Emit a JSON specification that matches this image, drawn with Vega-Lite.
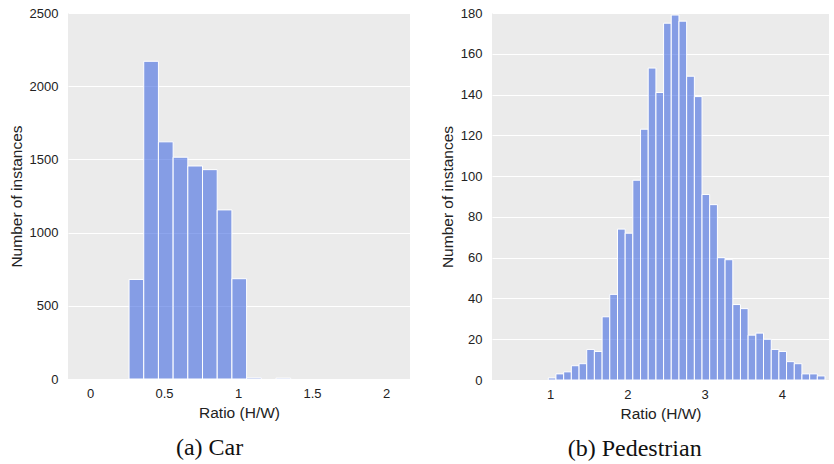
{
  "$schema": "https://vega.github.io/schema/vega-lite/v6.json",
  "background": "white",
  "padding": {"left": 9, "top": 7, "right": 5, "bottom": 5},
  "spacing": 30,
  "config": {
    "view": {"fill": "#EBEBEB", "stroke": null},
    "font": "Liberation Sans",
    "axis": {
      "grid": true, "gridColor": "white", "gridWidth": 1.2,
      "domain": false, "ticks": false,
      "labelFont": "Liberation Sans", "labelFontSize": 13, "labelColor": "#222",
      "titleFont": "Liberation Sans", "titleFontSize": 15.5, "titleFontWeight": "normal", "titleColor": "#222"
    },
    "axisX": {"grid": false, "labelPadding": 8, "titlePadding": 5},
    "axisY": {"labelPadding": 10, "titlePadding": 5},
    "title": {"font": "Liberation Serif", "fontSize": 24, "fontWeight": "normal", "color": "#111", "orient": "bottom", "anchor": "middle", "frame": "bounds", "offset": 15}
  },
  "datasets": {
    "car": [
      {"x0": 0.2635, "x1": 0.3628, "count": 680},
      {"x0": 0.3628, "x1": 0.4621, "count": 2170},
      {"x0": 0.4621, "x1": 0.5614, "count": 1620},
      {"x0": 0.5614, "x1": 0.6607, "count": 1515},
      {"x0": 0.6607, "x1": 0.7600, "count": 1455},
      {"x0": 0.7600, "x1": 0.8593, "count": 1430},
      {"x0": 0.8593, "x1": 0.9586, "count": 1155},
      {"x0": 0.9586, "x1": 1.0579, "count": 685},
      {"x0": 1.0579, "x1": 1.1572, "count": 8},
      {"x0": 1.2565, "x1": 1.3558, "count": 6}
    ],
    "ped": [
      {"x0": 0.978, "x1": 1.077, "count": 1},
      {"x0": 1.077, "x1": 1.177, "count": 3},
      {"x0": 1.177, "x1": 1.276, "count": 4},
      {"x0": 1.276, "x1": 1.376, "count": 7},
      {"x0": 1.376, "x1": 1.475, "count": 8},
      {"x0": 1.475, "x1": 1.574, "count": 15},
      {"x0": 1.574, "x1": 1.674, "count": 14},
      {"x0": 1.674, "x1": 1.773, "count": 31},
      {"x0": 1.773, "x1": 1.873, "count": 42},
      {"x0": 1.873, "x1": 1.972, "count": 74},
      {"x0": 1.972, "x1": 2.071, "count": 72},
      {"x0": 2.071, "x1": 2.171, "count": 98},
      {"x0": 2.171, "x1": 2.270, "count": 123},
      {"x0": 2.270, "x1": 2.370, "count": 153},
      {"x0": 2.370, "x1": 2.469, "count": 141},
      {"x0": 2.469, "x1": 2.568, "count": 175},
      {"x0": 2.568, "x1": 2.668, "count": 179},
      {"x0": 2.668, "x1": 2.767, "count": 176},
      {"x0": 2.767, "x1": 2.867, "count": 149},
      {"x0": 2.867, "x1": 2.966, "count": 139},
      {"x0": 2.966, "x1": 3.065, "count": 91},
      {"x0": 3.065, "x1": 3.165, "count": 86},
      {"x0": 3.165, "x1": 3.264, "count": 60},
      {"x0": 3.264, "x1": 3.364, "count": 59},
      {"x0": 3.364, "x1": 3.463, "count": 37},
      {"x0": 3.463, "x1": 3.562, "count": 35},
      {"x0": 3.562, "x1": 3.662, "count": 22},
      {"x0": 3.662, "x1": 3.761, "count": 23},
      {"x0": 3.761, "x1": 3.861, "count": 20},
      {"x0": 3.861, "x1": 3.960, "count": 15},
      {"x0": 3.960, "x1": 4.059, "count": 14},
      {"x0": 4.059, "x1": 4.159, "count": 9},
      {"x0": 4.159, "x1": 4.258, "count": 8},
      {"x0": 4.258, "x1": 4.358, "count": 3},
      {"x0": 4.358, "x1": 4.457, "count": 3},
      {"x0": 4.457, "x1": 4.556, "count": 2}
    ]
  },
  "hconcat": [
    {
      "width": 342, "height": 366,
      "title": "(a) Car",
      "data": {"name": "car"},
      "mark": {"type": "rect", "fill": "royalblue", "fillOpacity": 0.6, "stroke": "white", "strokeWidth": 1},
      "encoding": {
        "x": {"field": "x0", "type": "quantitative", "scale": {"domain": [-0.149, 2.162], "nice": false, "zero": false},
              "axis": {"values": [0, 0.5, 1, 1.5, 2], "format": "~g", "title": "Ratio (H/W)"}},
        "x2": {"field": "x1"},
        "y": {"field": "count", "type": "quantitative", "scale": {"domain": [0, 2500], "nice": false},
              "axis": {"values": [0, 500, 1000, 1500, 2000, 2500], "format": "d", "title": "Number of instances"}}
      }
    },
    {
      "width": 337, "height": 367,
      "title": "(b) Pedestrian",
      "data": {"name": "ped"},
      "mark": {"type": "rect", "fill": "royalblue", "fillOpacity": 0.6, "stroke": "white", "strokeWidth": 1},
      "encoding": {
        "x": {"field": "x0", "type": "quantitative", "scale": {"domain": [0.25, 4.608], "nice": false, "zero": false},
              "axis": {"values": [1, 2, 3, 4], "format": "~g", "title": "Ratio (H/W)"}},
        "x2": {"field": "x1"},
        "y": {"field": "count", "type": "quantitative", "scale": {"domain": [0, 180], "nice": false},
              "axis": {"values": [0, 20, 40, 60, 80, 100, 120, 140, 160, 180], "format": "d", "title": "Number of instances"}}
      }
    }
  ]
}
